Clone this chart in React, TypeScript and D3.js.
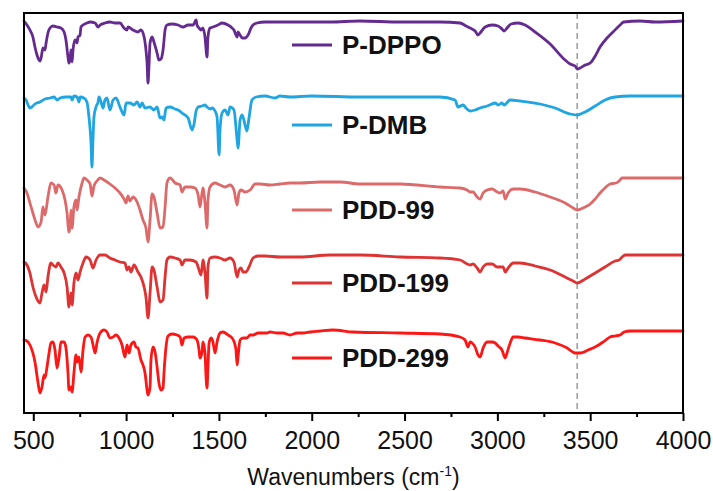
import React, { useEffect, useRef } from "react";
import * as d3 from "d3";

// ---------- data (wavenumber cm-1, stacked transmittance a.u.) ----------
const X_DOMAIN: [number, number] = [450, 4000];
const Y_DOMAIN: [number, number] = [0, 400];
const MAJOR_TICKS = [500, 1000, 1500, 2000, 2500, 3000, 3500, 4000];
const MINOR_TICKS = [750, 1250, 1750, 2250, 2750, 3250, 3750];
const PEAK_LINE = 3430;
const SERIES_NAMES = ["P-DPPO", "P-DMB", "PDD-99", "PDD-199", "PDD-299"];

const P_DPPO: [number, number][] = [
  [450,392],[466,388],[482,383],[498,376],[509,366],[520,358],[531,353],[536,352],[542,355],[552,365],[563,363],[569,370],[579,380],[590,385],[606,387],[628,386],[649,385],[666,381],[676,373],[687,356],[692,350],[698,353],[703,363],[709,351],[714,363],[725,373],[736,370],[741,376],[752,378],[757,386],[768,388],[789,390],[806,391],[833,390],[849,386],[860,388],[886,390],[913,391],[940,390],[967,390],[989,385],[1005,383],[1010,386],[1037,383],[1064,381],[1080,383],[1097,376],[1107,363],[1113,350],[1118,330],[1123,346],[1129,370],[1140,376],[1150,371],[1167,360],[1177,353],[1188,354],[1199,363],[1210,383],[1220,388],[1247,389],[1280,388],[1307,386],[1334,388],[1361,388],[1377,393],[1382,388],[1393,385],[1404,383],[1414,385],[1425,376],[1436,356],[1441,376],[1452,385],[1468,386],[1495,388],[1517,390],[1549,388],[1571,385],[1581,383],[1592,378],[1598,376],[1603,381],[1614,378],[1625,375],[1641,375],[1657,378],[1673,385],[1684,388],[1705,390],[1749,391],[1829,391],[2099,391],[2260,392],[2476,391],[2691,391],[2799,390],[2831,387],[2853,385],[2880,382],[2896,378],[2907,380],[2934,386],[2972,388],[3004,387],[3025,384],[3036,382],[3052,385],[3074,389],[3112,390],[3149,388],[3203,381],[3284,369],[3365,353],[3392,349],[3419,347],[3430,344],[3446,345],[3473,348],[3500,350],[3527,357],[3553,366],[3591,375],[3623,381],[3661,388],[3680,391],[3769,392],[3850,391],[4000,392]
];

const P_DMB: [number, number][] = [
  [450,315],[461,313],[472,308],[482,305],[493,306],[509,309],[536,311],[563,314],[590,315],[612,316],[628,313],[644,315],[676,316],[703,316],[709,313],[719,317],[736,316],[746,311],[752,316],[773,315],[789,311],[800,296],[811,270],[816,246],[822,276],[827,296],[838,306],[849,311],[854,316],[865,311],[876,305],[886,313],[897,315],[913,303],[930,313],[946,315],[967,306],[989,298],[1000,310],[1021,310],[1043,308],[1059,311],[1075,306],[1086,310],[1102,305],[1129,306],[1150,303],[1167,306],[1183,295],[1194,296],[1204,293],[1215,305],[1237,306],[1264,304],[1280,303],[1301,300],[1334,295],[1355,283],[1366,289],[1377,302],[1388,306],[1409,307],[1425,308],[1436,306],[1452,304],[1463,305],[1479,302],[1490,296],[1501,258],[1506,283],[1517,300],[1533,303],[1549,298],[1560,306],[1581,303],[1598,273],[1603,265],[1614,293],[1625,298],[1641,288],[1651,282],[1662,295],[1678,313],[1700,316],[1749,317],[1802,315],[1829,317],[1883,316],[2000,317],[2260,316],[2476,316],[2691,316],[2772,313],[2788,306],[2815,308],[2831,305],[2853,302],[2880,303],[2907,305],[2945,307],[2988,310],[3004,308],[3025,310],[3036,308],[3069,313],[3122,312],[3230,309],[3311,305],[3392,299],[3430,298],[3473,301],[3527,307],[3580,313],[3634,316],[3715,317],[4000,317]
];

const PDD_99: [number, number][] = [
  [450,225],[466,220],[482,210],[498,200],[515,190],[525,186],[542,191],[552,206],[563,198],[579,216],[595,230],[612,228],[622,220],[633,228],[655,223],[671,213],[682,200],[692,181],[698,186],[703,203],[709,185],[719,206],[730,213],[736,203],[746,216],[763,230],[773,235],[789,233],[806,229],[816,217],[827,227],[843,232],[860,235],[881,233],[913,229],[946,224],[967,220],[989,214],[1000,210],[1010,217],[1021,212],[1037,216],[1059,211],[1075,203],[1091,193],[1107,185],[1118,171],[1129,193],[1140,219],[1150,216],[1167,200],[1183,185],[1199,186],[1210,206],[1220,230],[1237,235],[1264,230],[1291,228],[1301,221],[1317,226],[1344,226],[1371,225],[1388,218],[1398,206],[1404,213],[1414,225],[1425,210],[1436,185],[1441,213],[1452,226],[1479,230],[1506,228],[1533,226],[1560,228],[1581,223],[1598,208],[1608,220],[1619,223],[1641,221],[1668,223],[1695,229],[1722,229],[1775,228],[1829,229],[1883,230],[1937,230],[2045,231],[2153,231],[2260,229],[2476,229],[2691,226],[2799,225],[2837,223],[2853,221],[2869,221],[2891,216],[2907,214],[2923,220],[2945,223],[2972,224],[2999,221],[3015,220],[3031,222],[3042,214],[3058,220],[3085,224],[3122,224],[3203,221],[3284,216],[3365,210],[3408,205],[3430,203],[3473,206],[3500,209],[3527,214],[3553,220],[3580,225],[3607,229],[3640,230],[3656,232],[3672,235],[3769,235],[4000,235]
];

const PDD_199: [number, number][] = [
  [450,151],[466,148],[482,140],[498,126],[515,116],[536,110],[547,120],[558,128],[569,121],[579,136],[595,150],[606,148],[622,146],[633,150],[649,146],[666,140],[682,126],[692,106],[703,120],[709,108],[719,130],[730,140],[741,133],[752,141],[768,150],[784,156],[806,153],[822,145],[838,153],[860,158],[886,158],[913,155],[940,153],[967,151],[994,150],[1005,143],[1016,146],[1026,141],[1043,148],[1064,141],[1080,136],[1097,126],[1107,116],[1118,95],[1129,120],[1140,146],[1150,143],[1167,126],[1183,111],[1199,113],[1210,136],[1220,153],[1237,156],[1264,155],[1291,153],[1301,148],[1317,153],[1344,153],[1377,151],[1393,143],[1404,138],[1414,153],[1425,140],[1436,115],[1441,146],[1452,155],[1479,156],[1506,155],[1533,153],[1560,155],[1581,151],[1598,136],[1608,143],[1619,145],[1630,141],[1646,141],[1662,146],[1684,155],[1711,157],[1749,157],[1829,156],[1937,156],[2099,158],[2260,158],[2476,156],[2691,155],[2799,153],[2837,149],[2853,148],[2869,149],[2891,145],[2907,141],[2923,146],[2945,149],[2972,149],[2999,146],[3015,146],[3031,146],[3042,141],[3058,145],[3085,150],[3122,150],[3203,147],[3284,143],[3365,136],[3408,132],[3430,130],[3473,134],[3527,140],[3580,146],[3634,152],[3656,153],[3672,156],[3688,158],[3769,158],[4000,158]
];

const PDD_299: [number, number][] = [
  [450,73],[466,72],[482,68],[498,60],[509,51],[525,31],[536,20],[547,26],[558,38],[563,35],[574,46],[585,60],[595,70],[606,71],[617,63],[628,45],[639,56],[649,71],[666,71],[676,65],[687,40],[692,23],[703,26],[709,21],[719,40],[730,58],[736,51],[746,56],[757,41],[768,63],[779,76],[795,78],[811,76],[822,68],[833,60],[843,70],[860,80],[881,83],[897,81],[913,75],[930,76],[946,78],[962,75],[978,68],[994,56],[1005,68],[1016,60],[1026,68],[1043,71],[1053,66],[1064,65],[1080,53],[1091,48],[1102,40],[1113,23],[1118,18],[1129,26],[1134,53],[1145,66],[1156,61],[1167,46],[1177,30],[1188,23],[1199,25],[1204,40],[1215,66],[1226,77],[1247,79],[1274,78],[1291,76],[1301,68],[1312,75],[1334,76],[1361,76],[1382,73],[1393,63],[1398,55],[1409,61],[1414,71],[1425,60],[1431,35],[1436,25],[1441,46],[1447,70],[1458,75],[1468,71],[1479,60],[1490,71],[1506,80],[1522,81],[1549,78],[1571,75],[1587,68],[1592,63],[1598,48],[1603,56],[1614,73],[1630,75],[1651,75],[1668,78],[1684,78],[1711,80],[1738,80],[1759,80],[1775,81],[1813,80],[1845,80],[1883,78],[1921,80],[1953,80],[1991,81],[2045,82],[2115,83],[2223,81],[2476,80],[2691,79],[2799,76],[2826,73],[2842,66],[2853,71],[2864,70],[2880,66],[2896,58],[2907,56],[2923,65],[2945,71],[2972,71],[2988,70],[3004,67],[3025,63],[3042,55],[3052,60],[3069,70],[3085,76],[3112,76],[3149,75],[3230,73],[3311,70],[3376,65],[3419,60],[3446,60],[3489,63],[3527,66],[3570,71],[3607,76],[3634,77],[3661,78],[3683,81],[3715,82],[4000,82]
];

const SERIES = [P_DPPO, P_DMB, PDD_99, PDD_199, PDD_299];

// ---------- styles / layout ----------
const COLORS = ["#652a8f", "#1ea5e2", "#dd6a6a", "#df3232", "#fd1616"];
const LEGEND_Y = [45, 125, 210, 283, 358];
const W = 713, H = 491;
const M = { left: 24, right: 683, top: 13, bottom: 413 };
const FONT = "Arial, 'Liberation Sans', Helvetica, sans-serif";

export default function App() {
  const ref = useRef<SVGSVGElement>(null);

  useEffect(() => {
    const svg = d3.select(ref.current);
    svg.selectAll("*").remove();

    const x = d3.scaleLinear().domain(X_DOMAIN).range([M.left, M.right]);
    const y = d3.scaleLinear().domain(Y_DOMAIN).range([M.bottom, M.top]);

    svg.append("rect").attr("width", W).attr("height", H).attr("fill", "#fff");

    // dashed reference line
    svg.append("line")
      .attr("x1", x(PEAK_LINE)).attr("x2", x(PEAK_LINE))
      .attr("y1", M.top).attr("y2", M.bottom)
      .attr("stroke", "#9a9a9a").attr("stroke-width", 1.5)
      .attr("stroke-dasharray", "6,4");

    const line = d3.line<[number, number]>()
      .x((d) => x(d[0]))
      .y((d) => y(d[1]))
      .curve(d3.curveMonotoneX);

    SERIES.forEach((s, i) => {
      svg.append("path")
        .attr("d", line(s) as string)
        .attr("fill", "none")
        .attr("stroke", COLORS[i])
        .attr("stroke-width", 2.8)
        .attr("stroke-linejoin", "round")
        .attr("stroke-linecap", "round");
    });

    // legend
    SERIES_NAMES.forEach((name, i) => {
      const ly = LEGEND_Y[i];
      svg.append("line")
        .attr("x1", 292).attr("x2", 332).attr("y1", ly).attr("y2", ly)
        .attr("stroke", COLORS[i]).attr("stroke-width", 2.8);
      svg.append("text")
        .attr("x", 342).attr("y", ly + 9)
        .attr("font-family", FONT).attr("font-size", 26).attr("font-weight", "bold")
        .attr("fill", "#111")
        .text(name);
    });

    // axes
    const major = d3.axisBottom(x).tickValues(MAJOR_TICKS).tickSize(8).tickSizeOuter(0).tickPadding(10)
      .tickFormat((d) => String(d));
    const gMajor = svg.append("g").attr("transform", `translate(0,${M.bottom})`).call(major);
    gMajor.select(".domain").remove();
    gMajor.selectAll("line").attr("stroke", "#000").attr("stroke-width", 2);
    gMajor.selectAll("text").attr("font-family", FONT).attr("font-size", 25).attr("fill", "#111");

    const minor = d3.axisBottom(x).tickValues(MINOR_TICKS).tickSize(4).tickSizeOuter(0).tickFormat(() => "");
    const gMinor = svg.append("g").attr("transform", `translate(0,${M.bottom})`).call(minor);
    gMinor.select(".domain").remove();
    gMinor.selectAll("line").attr("stroke", "#000").attr("stroke-width", 2);

    // frame
    svg.append("rect")
      .attr("x", M.left).attr("y", M.top)
      .attr("width", M.right - M.left).attr("height", M.bottom - M.top)
      .attr("fill", "none").attr("stroke", "#000").attr("stroke-width", 2);

    // axis title
    const t = svg.append("text")
      .attr("x", (M.left + M.right) / 2).attr("y", 485)
      .attr("text-anchor", "middle")
      .attr("font-family", FONT).attr("font-size", 23).attr("fill", "#111");
    t.append("tspan").text("Wavenumbers (cm");
    t.append("tspan").attr("font-size", 14).attr("dy", -9).text("-1");
    t.append("tspan").attr("dy", 9).text(")");
  }, []);

  return (
    <svg
      ref={ref}
      width={W}
      height={H}
      style={{ position: "absolute", left: 0, top: 0, display: "block" }}
    />
  );
}
